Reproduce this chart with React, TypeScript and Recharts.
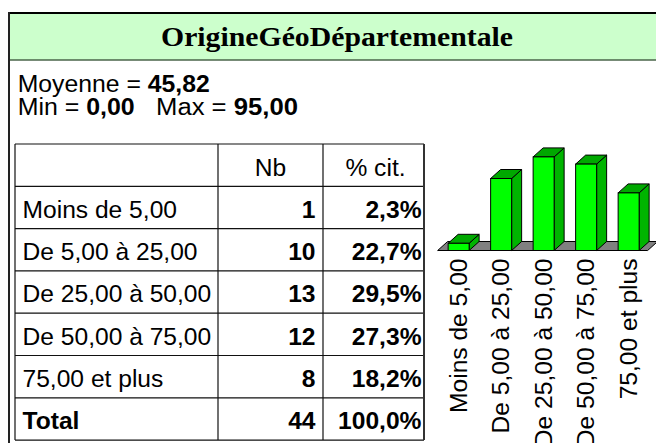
import React from 'react';
import { BarChart, Bar, XAxis, YAxis } from 'recharts';

const titleText = 'OrigineGéoDépartementale';
const categories = ['Moins de 5,00', 'De 5,00 à 25,00', 'De 25,00 à 50,00', 'De 50,00 à 75,00', '75,00 et plus'];
const counts = [1, 10, 13, 12, 8];
const percents = [2.3, 22.7, 29.5, 27.3, 18.2];
const totalCount = 44;
const totalPercent = 100.0;
const statMean = '45,82';
const statMin = '0,00';
const statMax = '95,00';
const headerLabels = ['', 'Nb', '% cit.'];

const data = categories.map((name, i) => ({ name, value: counts[i] }));

const FONT = '"Liberation Sans", Arial, sans-serif';
const FS = 24.6;
const FS_STAT = 23;

const fmtPct = (v: number) => v.toFixed(1).replace('.', ',') + '%';

const Bar3D = (props: any) => {
  const { x, y, width, height, index } = props;
  const dx = 10;
  const dy = 9;
  const base = y + height;
  let floor = null;
  if (index === 0) {
    const band = width * 2;
    const start = x - width / 2;
    const end = start + band * categories.length;
    floor = (
      <polygon
        points={`${start},${base} ${start + dx},${base - dy} ${end + dx},${base - dy} ${end},${base}`}
        fill="#808080"
        stroke="#000"
        strokeWidth={1}
      />
    );
  }
  return (
    <g>
      {floor}
      <polygon
        points={`${x + width},${y} ${x + width + dx},${y - dy} ${x + width + dx},${base - dy} ${x + width},${base}`}
        fill="#00B400"
        stroke="#000"
        strokeWidth={1}
      />
      <polygon
        points={`${x},${y} ${x + dx},${y - dy} ${x + width + dx},${y - dy} ${x + width},${y}`}
        fill="#00A800"
        stroke="#000"
        strokeWidth={1}
      />
      <rect x={x} y={y} width={width} height={height} fill="#00FF00" stroke="#000" strokeWidth={1} />
    </g>
  );
};

const RotTick = (props: any) => {
  const { x, y, payload } = props;
  const tx = x + 8;
  return (
    <text
      x={tx}
      y={y}
      transform={`rotate(-90 ${tx} ${y})`}
      textAnchor="end"
      fontFamily={FONT}
      fontSize={FS}
      fill="#000"
    >
      {payload.value}
    </text>
  );
};

const TABLE_LEFT = 15;
const TABLE_RIGHT = 424;
const COL1 = 218;
const COL2 = 323;
const TABLE_TOP = 144;
const ROW_H = 42.3;

const Frame = () => {
  const rows = categories.length + 2;
  const bottom = TABLE_TOP + rows * ROW_H;
  const rowLines = [];
  for (let i = 0; i <= rows; i++) {
    const yy = TABLE_TOP + i * ROW_H;
    rowLines.push(<line key={'r' + i} x1={TABLE_LEFT} x2={TABLE_RIGHT} y1={yy} y2={yy} stroke="#111" strokeWidth={1.2} />);
  }
  const cellTexts: any[] = [];
  cellTexts.push(
    <text key="h1" x={(COL1 + COL2) / 2} y={TABLE_TOP + 31.5} textAnchor="middle" fontFamily={FONT} fontSize={FS}>{headerLabels[1]}</text>,
    <text key="h2" x={(COL2 + TABLE_RIGHT) / 2 + 2} y={TABLE_TOP + 31.5} textAnchor="middle" fontFamily={FONT} fontSize={FS}>{headerLabels[2]}</text>
  );
  categories.forEach((c, i) => {
    const by = TABLE_TOP + (i + 1) * ROW_H + 31.5;
    cellTexts.push(
      <text key={'c' + i} x={TABLE_LEFT + 7.5} y={by} fontFamily={FONT} fontSize={FS}>{c}</text>,
      <text key={'n' + i} x={COL2 - 7.5} y={by} textAnchor="end" fontFamily={FONT} fontSize={FS} fontWeight="bold">{counts[i]}</text>,
      <text key={'p' + i} x={TABLE_RIGHT - 2.5} y={by} textAnchor="end" fontFamily={FONT} fontSize={FS} fontWeight="bold">{fmtPct(percents[i])}</text>
    );
  });
  const ty = TABLE_TOP + (categories.length + 1) * ROW_H + 31.5;
  cellTexts.push(
    <text key="t0" x={TABLE_LEFT + 7.5} y={ty} fontFamily={FONT} fontSize={FS} fontWeight="bold">Total</text>,
    <text key="t1" x={COL2 - 7.5} y={ty} textAnchor="end" fontFamily={FONT} fontSize={FS} fontWeight="bold">{totalCount}</text>,
    <text key="t2" x={TABLE_RIGHT - 2.5} y={ty} textAnchor="end" fontFamily={FONT} fontSize={FS} fontWeight="bold">{fmtPct(totalPercent)}</text>
  );

  return (
    <svg width={656} height={443} style={{ position: 'absolute', left: 0, top: 0 }}>
      <rect x={0} y={0} width={656} height={443} fill="#fff" />
      <rect x={9} y={13} width={660} height={47} fill="#CCFFCC" />
      <line x1={8} x2={656} y1={13} y2={13} stroke="#000" strokeWidth={2} />
      <line x1={9} x2={656} y1={60} y2={60} stroke="#4a644a" strokeWidth={1.5} />
      <line x1={9} x2={9} y1={12} y2={443} stroke="#222" strokeWidth={2} />
      <text
        x={337}
        y={45.7}
        textAnchor="middle"
        fontFamily='"Liberation Serif", "Times New Roman", serif'
        fontWeight="bold"
        fontSize={27}
        textLength={352}
        lengthAdjust="spacingAndGlyphs"
      >
        {titleText}
      </text>
      <text x={17.7} y={91.7} fontFamily={FONT} fontSize={FS_STAT} textLength={192} lengthAdjust="spacingAndGlyphs">
        Moyenne = <tspan fontWeight="bold">{statMean}</tspan>
      </text>
      <text x={17.7} y={115} fontFamily={FONT} fontSize={FS_STAT} textLength={117} lengthAdjust="spacingAndGlyphs">
        Min = <tspan fontWeight="bold">{statMin}</tspan>
      </text>
      <text x={156} y={115} fontFamily={FONT} fontSize={FS_STAT} textLength={142} lengthAdjust="spacingAndGlyphs">
        Max = <tspan fontWeight="bold">{statMax}</tspan>
      </text>
      {rowLines}
      <line x1={TABLE_LEFT} x2={TABLE_LEFT} y1={TABLE_TOP} y2={bottom} stroke="#111" strokeWidth={1.2} />
      <line x1={COL1} x2={COL1} y1={TABLE_TOP} y2={bottom} stroke="#111" strokeWidth={1.2} />
      <line x1={COL2} x2={COL2} y1={TABLE_TOP} y2={bottom} stroke="#111" strokeWidth={1.2} />
      <line x1={TABLE_RIGHT} x2={TABLE_RIGHT} y1={TABLE_TOP} y2={bottom} stroke="#333" strokeWidth={2} />
      {cellTexts}
    </svg>
  );
};

export default function App() {
  return (
    <div style={{ position: 'absolute', left: 0, top: 0, width: 656, height: 443, overflow: 'hidden', background: '#fff' }}>
      <Frame />
      <div style={{ position: 'absolute', left: 0, top: 0 }}>
        <BarChart
          width={656}
          height={443}
          data={data}
          margin={{ top: 149.7, right: 6, bottom: 2.5, left: 437.5 }}
          barCategoryGap="25%"
        >
          <XAxis
            dataKey="name"
            height={190}
            axisLine={false}
            tickLine={false}
            tickSize={0}
            tickMargin={8}
            interval={0}
            tick={<RotTick />}
          />
          <YAxis hide width={0} domain={[0, 14]} />
          <Bar dataKey="value" isAnimationActive={false} shape={<Bar3D />} />
        </BarChart>
      </div>
    </div>
  );
}
